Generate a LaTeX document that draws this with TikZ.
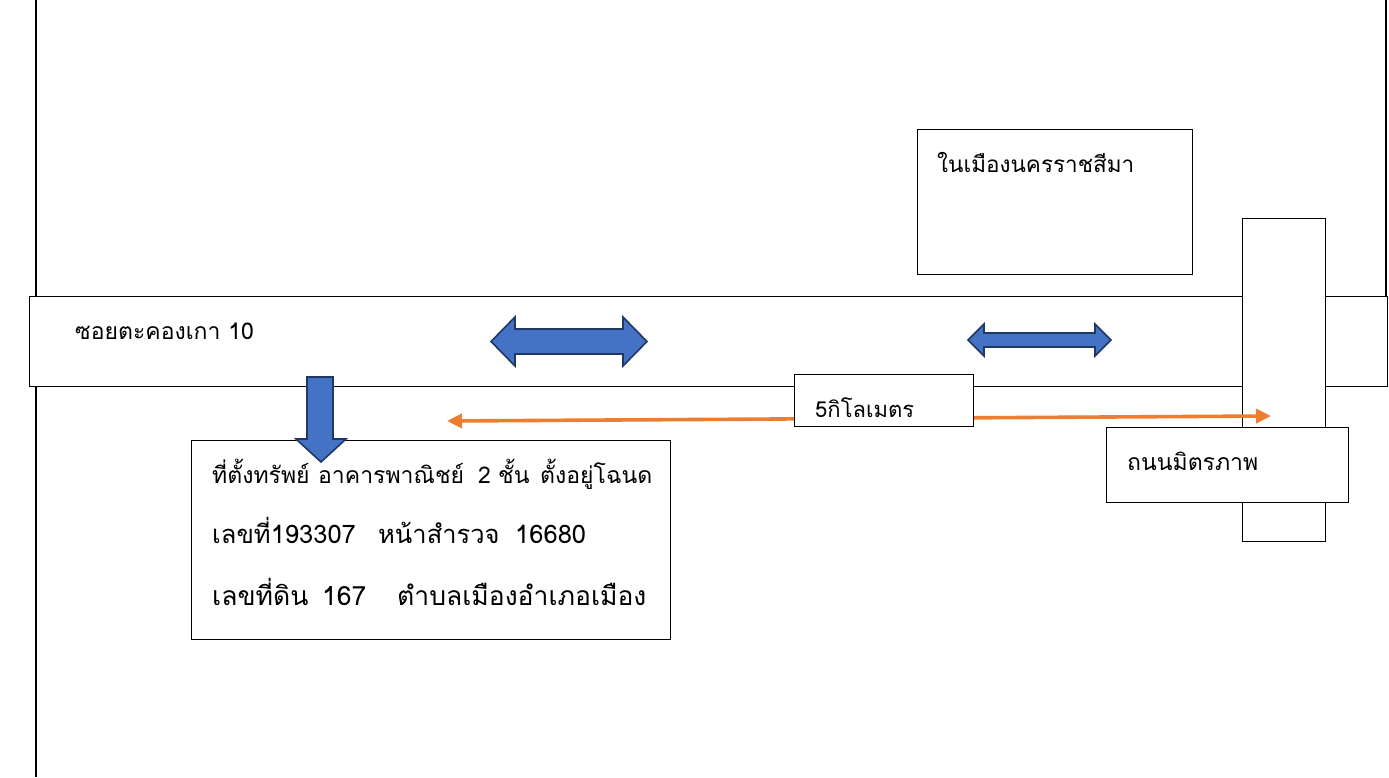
\documentclass[tikz,border=0pt]{standalone}
\usepackage{fontspec}
\newfontfamily\thai[Script=Thai]{Loma}
\usetikzlibrary{arrows.meta}
\definecolor{blueF}{HTML}{4472C4}
\definecolor{blueD}{HTML}{203864}
\definecolor{orng}{HTML}{ED7D31}
\newcommand{\seg}[2]{\makebox[#1][l]{#2}}
\begin{document}
\begin{tikzpicture}[x=1pt,y=-1pt,
  box/.style={draw=black, line width=1.1pt, fill=white, inner sep=0pt, anchor=north west},
  lbl/.style={font=\thai\fontsize{23}{28}\selectfont, anchor=base west, inner sep=0pt},
  blockarrow/.style={fill=blueF, draw=blueD, line width=1.6pt, line join=miter},
  orangearrow/.style={draw=orng, line width=3.6pt, {Triangle[length=15pt,width=14pt]}-{Triangle[length=15pt,width=14pt]}}]
\useasboundingbox (0,0) rectangle (1389,777);
% border lines
\coordinate (lt) at (36,0); \coordinate (lb) at (36,777);
\coordinate (rt) at (1386,0); \coordinate (rb) at (1386,296);
\draw[line width=1.1pt] (lt) -- (lb);
\draw[line width=1.1pt] (rt) -- (rb);
% horizontal road
\node[box, minimum width=1358pt, minimum height=90pt] (road) at (29,296) {};
\node[lbl] (roadtxt) at (75,339) {ซอยตะคองเกา 10};
% vertical road
\node[box, minimum width=83pt, minimum height=323pt] (vroad) at (1242,218) {};
% city box
\node[box, minimum width=275pt, minimum height=145pt] (city) at (917,129) {};
\node[lbl, font=\thai\fontsize{22.5}{27}\selectfont] (citytxt) at (937,172) {ในเมืองนครราชสีมา};
% orange distance arrow
\coordinate (oL) at (447,421);
\coordinate (oR) at (1271,416);
\draw[orangearrow] (oL) -- (oR);
\node[box, minimum width=179pt, minimum height=52pt] (km) at (794,374) {};
\node[lbl, font=\thai\fontsize{22}{26}\selectfont] (kmtxt) at (815,417) {5กิโลเมตร};
% Mittraphap road label
\node[box, minimum width=242pt, minimum height=75pt] (mit) at (1106,427) {};
\node[lbl] (mittxt) at (1127,470) {ถนนมิตรภาพ};
% property box
\node[box, minimum width=479pt, minimum height=199pt] (prop) at (191,440) {};
\node[lbl] (l1) at (212,483) {\seg{106pt}{ที่ตั้งทรัพย์}\seg{160pt}{อาคารพาณิชย์}\seg{20pt}{2}\seg{42pt}{ชั้น}ตั้งอยู่โฉนด};
\node[lbl, font=\thai\fontsize{25.5}{30}\selectfont] (l2) at (212,543) {\seg{166pt}{เลขที่193307}\seg{137pt}{หน้าสำรวจ}16680};
\node[lbl, font=\thai\fontsize{26.5}{31}\selectfont] (l3) at (212,605) {\seg{110pt}{เลขที่ดิน}\seg{75pt}{167}ตำบลเมืองอำเภอเมือง};
% blue double arrows
\filldraw[blockarrow] (491,341.5) -- (515,317) -- (515,329) -- (623,329) -- (623,317) -- (647,341.5)
  -- (623,366) -- (623,354) -- (515,354) -- (515,366) -- cycle;
\filldraw[blockarrow] (968,340) -- (984,324) -- (984,333) -- (1095,333) -- (1095,324) -- (1111,340)
  -- (1095,356) -- (1095,347) -- (984,347) -- (984,356) -- cycle;
% blue down arrow
\filldraw[blockarrow] (307,377) -- (333,377) -- (333,439) -- (346,439) -- (321,462) -- (296,439) -- (307,439) -- cycle;
\end{tikzpicture}
\end{document}
